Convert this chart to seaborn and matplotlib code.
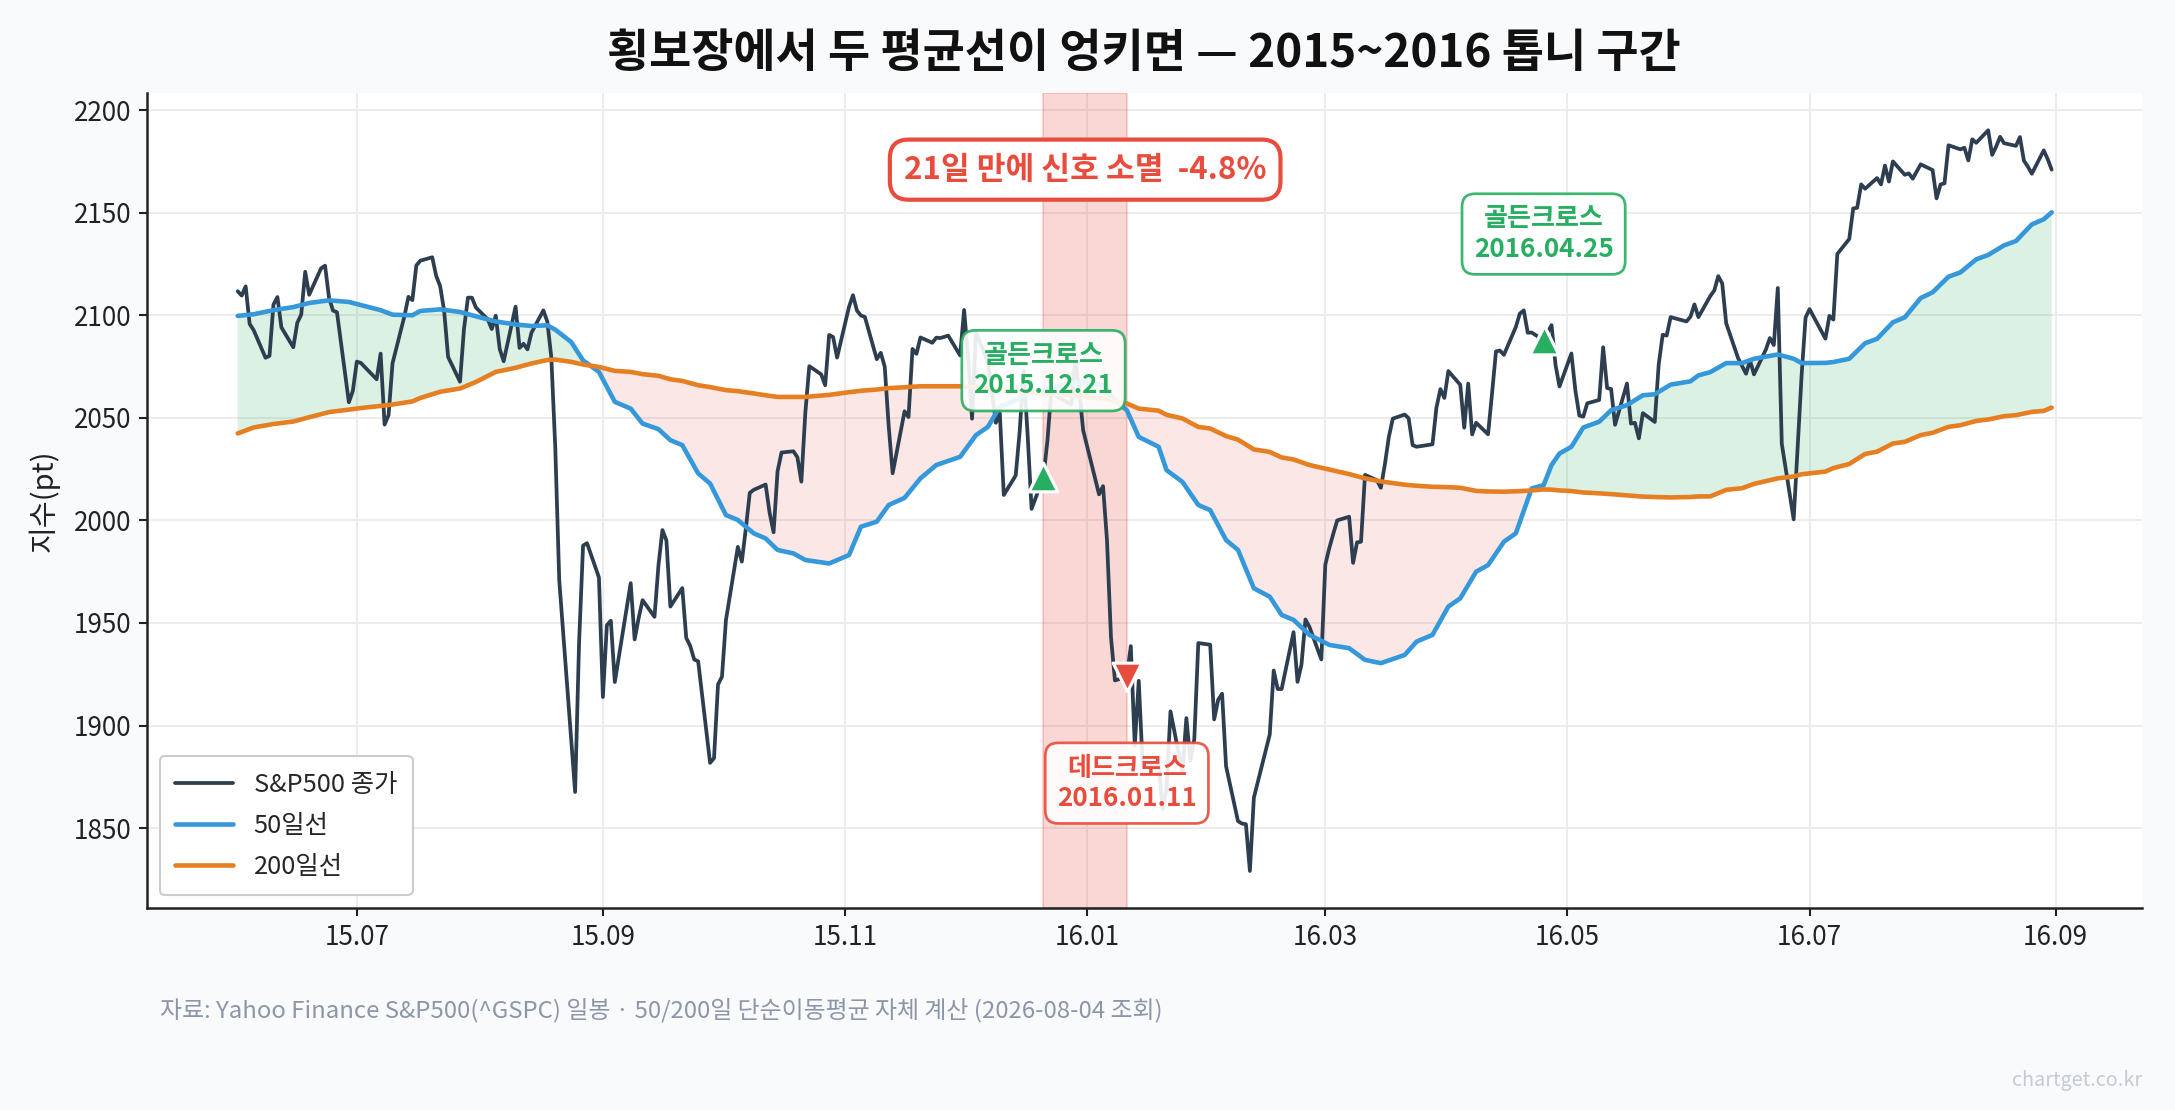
import pandas as pd
import seaborn as sns
import matplotlib.pyplot as plt
import matplotlib.dates as mdates

# S&P500 daily closes, Jun 2015 - Dec 2015
close_2015 = [
    # Jun
    2111.7, 2109.6, 2114.1, 2095.8, 2092.8, 2079.3, 2080.2, 2105.2, 2108.9, 2094.1, 2084.4,
    2096.3, 2100.4, 2121.2, 2110.0, 2122.9, 2124.2, 2108.6, 2102.3, 2101.5, 2057.6, 2063.1,
    # Jul
    2077.4, 2076.8, 2068.8, 2081.3, 2046.7, 2051.3, 2076.6, 2099.6, 2109.0, 2107.4, 2124.3,
    2126.6, 2128.3, 2119.2, 2114.2, 2102.2, 2079.7, 2067.6, 2093.3, 2108.6, 2108.6, 2103.8,
    # Aug
    2098.0, 2093.3, 2099.8, 2083.6, 2077.6, 2104.2, 2084.1, 2086.1, 2083.4, 2091.5, 2102.4,
    2096.9, 2079.6, 2035.7, 1970.9, 1893.2, 1867.6, 1940.5, 1987.7, 1988.9, 1972.2,
    # Sep
    1913.9, 1948.9, 1951.1, 1921.2, 1969.4, 1942.0, 1952.3, 1961.1, 1953.0, 1978.1, 1995.3,
    1990.2, 1958.0, 1967.0, 1942.7, 1938.8, 1932.2, 1931.3, 1881.8, 1884.1, 1920.0,
    # Oct
    1923.8, 1951.4, 1987.1, 1979.9, 1995.8, 2013.4, 2014.9, 2017.5, 2003.7, 1994.2, 2023.9,
    2033.1, 2033.7, 2030.8, 2018.9, 2052.5, 2075.2, 2071.2, 2065.9, 2090.4, 2089.4, 2079.4,
    # Nov
    2104.1, 2109.8, 2102.3, 2099.9, 2099.2, 2078.6, 2081.7, 2075.0, 2046.0, 2023.0,
    2053.2, 2050.4, 2083.6, 2081.2, 2089.2, 2086.6, 2089.1, 2088.9, 2090.1, 2080.4,
    # Dec
    2102.6, 2079.5, 2049.6, 2091.7, 2077.1, 2063.6, 2047.6, 2052.2, 2012.4, 2021.9, 2043.4,
    2073.1, 2041.9, 2005.6, 2021.2, 2039.0, 2064.3, 2061.0, 2056.5, 2078.4, 2063.4, 2043.9,
]

# Jan 2016 - Aug 2016
close_2016 = [
    # Jan
    2012.7, 2016.7, 1990.3, 1943.1, 1922.0, 1923.7, 1938.7, 1890.3, 1921.8, 1880.3,
    1881.3, 1859.3, 1869.0, 1906.9, 1877.1, 1903.6, 1883.0, 1893.4, 1940.2,
    # Feb
    1939.4, 1903.0, 1912.5, 1915.5, 1880.1, 1853.4, 1852.2, 1851.9, 1829.1, 1864.8,
    1895.6, 1926.8, 1917.8, 1917.8, 1945.5, 1921.3, 1929.8, 1951.7, 1948.1, 1932.2,
    # Mar
    1978.4, 1986.5, 1993.4, 2000.0, 2001.8, 1979.3, 1989.3, 1989.6, 2022.2, 2019.6, 2015.9,
    2027.2, 2040.6, 2049.6, 2051.6, 2049.8, 2036.7, 2035.9, 2037.1, 2055.0, 2064.0, 2059.7,
    # Apr
    2072.8, 2066.1, 2045.2, 2066.7, 2041.9, 2047.6, 2042.0, 2061.7, 2082.4, 2082.8, 2080.7,
    2094.3, 2100.8, 2102.4, 2091.5, 2091.6, 2087.8, 2091.7, 2095.2, 2075.8, 2065.3,
    # May
    2081.4, 2063.4, 2051.1, 2050.6, 2057.1, 2058.7, 2084.4, 2064.5, 2064.1, 2046.6, 2066.7,
    2047.2, 2047.6, 2040.0, 2052.3, 2048.0, 2076.1, 2090.5, 2090.1, 2099.1, 2097.0,
    # Jun
    2099.3, 2105.3, 2099.1, 2109.4, 2112.1, 2119.1, 2115.5, 2096.1, 2079.1, 2075.3, 2071.5,
    2078.0, 2071.2, 2083.3, 2088.9, 2085.5, 2113.3, 2037.4, 2000.5, 2036.1, 2070.8, 2098.9,
    # Jul
    2103.0, 2088.6, 2099.7, 2097.9, 2129.9, 2137.2, 2152.1, 2152.4, 2163.8, 2161.7,
    2166.9, 2163.8, 2173.0, 2165.2, 2175.0, 2168.5, 2169.2, 2166.6, 2170.1, 2173.6,
    # Aug
    2170.8, 2157.0, 2163.8, 2164.3, 2182.9, 2180.9, 2181.7, 2175.5, 2185.8, 2184.1, 2190.2,
    2178.2, 2182.2, 2187.0, 2183.9, 2182.6, 2186.9, 2175.4, 2172.5, 2169.0, 2180.4, 2176.1,
    2171.0,
]

market_holidays = ["2015-07-03", "2015-09-07", "2015-11-26", "2015-12-25", "2016-01-01",
                   "2016-01-18", "2016-02-15", "2016-03-25", "2016-05-30", "2016-07-04"]

# moving averages sampled from the chart
ma_dates = [
    "2015-06-01", "2015-06-05", "2015-06-10", "2015-06-15", "2015-06-19", "2015-06-24",
    "2015-06-29", "2015-07-03", "2015-07-07", "2015-07-10", "2015-07-15", "2015-07-17",
    "2015-07-22", "2015-07-27", "2015-07-31", "2015-08-05", "2015-08-10", "2015-08-14",
    "2015-08-18", "2015-08-20", "2015-08-24", "2015-08-27", "2015-08-31", "2015-09-04",
    "2015-09-08", "2015-09-11", "2015-09-15", "2015-09-18", "2015-09-21", "2015-09-25",
    "2015-09-28", "2015-10-02", "2015-10-05", "2015-10-09", "2015-10-12", "2015-10-15",
    "2015-10-19", "2015-10-22", "2015-10-28", "2015-11-02", "2015-11-05", "2015-11-09",
    "2015-11-12", "2015-11-16", "2015-11-20", "2015-11-24", "2015-11-30", "2015-12-04",
    "2015-12-07", "2015-12-10", "2015-12-14", "2015-12-17", "2015-12-22", "2015-12-28",
    "2015-12-31", "2016-01-05", "2016-01-08", "2016-01-11", "2016-01-14", "2016-01-19",
    "2016-01-21", "2016-01-25", "2016-01-29", "2016-02-01", "2016-02-05", "2016-02-08",
    "2016-02-12", "2016-02-16", "2016-02-19", "2016-02-22", "2016-02-26", "2016-03-02",
    "2016-03-07", "2016-03-11", "2016-03-15", "2016-03-21", "2016-03-24", "2016-03-28",
    "2016-04-01", "2016-04-04", "2016-04-08", "2016-04-11", "2016-04-15", "2016-04-18",
    "2016-04-22", "2016-04-25", "2016-04-27", "2016-04-29", "2016-05-02", "2016-05-05",
    "2016-05-09", "2016-05-12", "2016-05-16", "2016-05-20", "2016-05-23", "2016-05-27",
    "2016-06-01", "2016-06-03", "2016-06-06", "2016-06-10", "2016-06-14", "2016-06-17",
    "2016-06-23", "2016-06-27", "2016-06-29", "2016-07-05", "2016-07-07", "2016-07-11",
    "2016-07-15", "2016-07-18", "2016-07-22", "2016-07-25", "2016-07-29", "2016-08-01",
    "2016-08-05", "2016-08-08", "2016-08-12", "2016-08-15", "2016-08-19", "2016-08-22",
    "2016-08-26", "2016-08-29", "2016-08-31",
]
ma50 = [
    2099.7, 2100.5, 2102.5, 2104.0, 2106.0, 2107.3, 2106.5, 2104.5, 2102.5, 2100.3,
    2100.0, 2102.1, 2102.9, 2101.6, 2099.5, 2097.0, 2095.5, 2094.8, 2095.1, 2093.0,
    2087.0, 2078.0, 2072.4, 2057.8, 2054.5, 2047.2, 2044.5, 2039.1, 2036.7, 2022.9,
    2018.0, 2002.6, 2000.2, 1993.7, 1991.2, 1985.6, 1983.9, 1980.7, 1979.0, 1983.1,
    1996.9, 1999.4, 2007.5, 2011.0, 2020.5, 2027.0, 2031.0, 2041.6, 2045.6, 2055.4,
    2058.6, 2061.9, 2064.3, 2066.7, 2067.5, 2066.0, 2058.6, 2053.7, 2040.7, 2035.9,
    2024.5, 2018.8, 2007.5, 2005.0, 1990.4, 1985.6, 1966.9, 1962.8, 1953.9, 1951.5,
    1944.2, 1939.3, 1937.7, 1932.0, 1930.4, 1934.4, 1940.9, 1944.2, 1958.0, 1962.0,
    1975.0, 1978.2, 1989.6, 1993.7, 2015.6, 2017.2, 2027.0, 2032.6, 2035.9, 2045.3,
    2048.1, 2053.7, 2056.2, 2061.0, 2061.5, 2066.2, 2067.8, 2070.7, 2072.3, 2076.7,
    2076.7, 2078.8, 2080.9, 2078.8, 2076.7, 2076.8, 2077.2, 2078.8, 2086.4, 2088.5,
    2096.6, 2099.0, 2108.4, 2111.2, 2118.8, 2120.9, 2127.3, 2129.4, 2134.1, 2136.2,
    2144.3, 2146.8, 2150.2,
]
ma200 = [
    2042.4, 2045.3, 2047.0, 2048.2, 2050.3, 2052.8, 2054.0, 2055.0, 2055.8, 2056.5,
    2058.0, 2059.7, 2062.7, 2064.3, 2067.5, 2072.4, 2074.4, 2076.5, 2078.2, 2078.4,
    2077.3, 2076.0, 2074.8, 2072.9, 2072.4, 2071.3, 2070.5, 2068.8, 2068.0, 2065.9,
    2065.0, 2063.5, 2063.0, 2061.9, 2061.0, 2060.2, 2060.2, 2060.2, 2061.2, 2062.5,
    2063.2, 2063.8, 2064.5, 2064.9, 2065.4, 2065.4, 2065.4, 2064.8, 2064.5, 2063.5,
    2062.8, 2062.2, 2061.8, 2061.0, 2060.3, 2059.5, 2058.0, 2057.0, 2054.5, 2053.5,
    2051.5, 2049.7, 2045.6, 2044.8, 2041.1, 2039.4, 2034.6, 2033.4, 2030.7, 2029.7,
    2027.0, 2024.8, 2022.6, 2020.5, 2019.0, 2017.4, 2016.9, 2016.4, 2016.2, 2015.9,
    2014.4, 2014.1, 2014.0, 2014.2, 2014.6, 2015.1, 2015.0, 2014.6, 2014.3, 2013.6,
    2013.2, 2012.8, 2012.2, 2011.6, 2011.4, 2011.2, 2011.4, 2011.7, 2011.7, 2014.9,
    2015.7, 2017.8, 2020.5, 2021.4, 2022.5, 2023.8, 2025.5, 2027.5, 2032.4, 2033.5,
    2037.5, 2038.3, 2041.6, 2042.7, 2045.6, 2046.4, 2048.5, 2049.2, 2050.8, 2051.3,
    2052.9, 2053.4, 2055.0,
]

signal_dates = ["2015-12-21", "2016-01-11", "2016-04-25"]
signal_kinds = ["golden", "dead", "golden"]
signal_labels = ["골든크로스\n2015.12.21", "데드크로스\n2016.01.11", "골든크로스\n2016.04.25"]
fail_note = "21일 만에 신호 소멸  -4.8%"
fail_note_y = 2171

C_CLOSE = "#2c3e50"
C_MA50 = "#3498db"
C_MA200 = "#e67e22"
C_GREEN = "#27ae60"
C_RED = "#e74c3c"

sns.set_theme(style="whitegrid")
plt.rcParams["font.family"] = ["Noto Sans CJK KR", "DejaVu Sans"]
plt.rcParams["axes.unicode_minus"] = False

dates = pd.bdate_range("2015-06-01", "2016-08-31", freq="C", holidays=market_holidays)
close = pd.Series(close_2015 + close_2016, index=dates)
ma = pd.DataFrame({"ma50": ma50, "ma200": ma200}, index=pd.to_datetime(ma_dates))

fig, ax = plt.subplots(figsize=(14.5, 7.4), dpi=150)
fig.patch.set_facecolor("#f8fafc")
ax.set_facecolor("white")
fig.subplots_adjust(left=0.0676, right=0.985, top=0.916, bottom=0.182)

# flip zone between the golden cross and the dead cross
ax.axvspan(pd.Timestamp(signal_dates[0]), pd.Timestamp(signal_dates[1]),
           color=C_RED, alpha=0.22, lw=1, zorder=1)

ax.fill_between(ma.index, ma["ma50"], ma["ma200"], where=ma["ma50"] >= ma["ma200"],
                interpolate=True, color=C_GREEN, alpha=0.17, lw=0, zorder=1)
ax.fill_between(ma.index, ma["ma50"], ma["ma200"], where=ma["ma50"] < ma["ma200"],
                interpolate=True, color=C_RED, alpha=0.13, lw=0, zorder=1)

sns.lineplot(x=close.index, y=close.values, ax=ax, color=C_CLOSE, lw=1.8,
             label="S&P500 종가", zorder=3)
sns.lineplot(x=ma.index, y=ma["ma50"].values, ax=ax, color=C_MA50, lw=2.2,
             label="50일선", zorder=3)
sns.lineplot(x=ma.index, y=ma["ma200"].values, ax=ax, color=C_MA200, lw=2.2,
             label="200일선", zorder=3)

for d, kind, text in zip(signal_dates, signal_kinds, signal_labels):
    t = pd.Timestamp(d)
    y = close[t]
    col = C_GREEN if kind == "golden" else C_RED
    ax.scatter([t], [y], marker="^" if kind == "golden" else "v", s=190, color=col,
               edgecolor="white", linewidth=1.5, zorder=6)
    off = 51 if kind == "golden" else -51
    ax.annotate(text, xy=(t, y), xytext=(0, off), textcoords="offset points",
                ha="center", va="center", fontsize=12.5, fontweight="bold", color=col,
                linespacing=1.15, zorder=7,
                bbox=dict(boxstyle="round,pad=0.45,rounding_size=0.5", fc="white",
                          ec=col, lw=1.3, alpha=0.9))

mid = pd.Timestamp(signal_dates[0]) + (pd.Timestamp(signal_dates[1]) - pd.Timestamp(signal_dates[0])) / 2
ax.text(mid, fail_note_y, fail_note, ha="center", va="center", fontsize=15,
        fontweight="bold", color=C_RED, zorder=7,
        bbox=dict(boxstyle="round,pad=0.45,rounding_size=0.6", fc="white", ec=C_RED, lw=2))

ax.xaxis.set_major_locator(mdates.MonthLocator(bymonth=[1, 3, 5, 7, 9, 11]))
ax.xaxis.set_major_formatter(mdates.DateFormatter("%y.%m"))
ax.set_yticks(range(1850, 2201, 50))
ax.margins(x=0.05, y=0.05)
ax.grid(True, color="#ebebeb", lw=0.9)
for s in ["top", "right"]:
    ax.spines[s].set_visible(False)
for s in ["left", "bottom"]:
    ax.spines[s].set_color("#222222")
    ax.spines[s].set_linewidth(1.2)
ax.tick_params(axis="both", which="major", direction="out", length=4, width=1,
               color="#222222", labelsize=12.5, labelcolor="#222222", bottom=True, left=True)
ax.set_xlabel("")
ax.set_ylabel("지수(pt)", fontsize=14, color="#222222")
ax.yaxis.set_label_coords(-0.0436, 0.5)

leg = ax.legend(loc="lower left", fontsize=12.2, frameon=True, handlelength=2.3,
                handletextpad=0.8, borderpad=0.6, labelspacing=0.6)
leg.get_frame().set_edgecolor("#cccccc")
leg.get_frame().set_facecolor("white")
leg.get_frame().set_alpha(1)

fig.text(0.526, 0.951, "횡보장에서 두 평균선이 엉키면 — 2015~2016 톱니 구간",
         ha="center", va="center", fontsize=22, fontweight="bold", color="#111111")
fig.text(0.0735, 0.09, "자료: Yahoo Finance S&P500(^GSPC) 일봉 · 50/200일 단순이동평균 자체 계산 (2026-08-04 조회)",
         ha="left", va="center", fontsize=11.5, color="#8c96a8")
fig.text(0.985, 0.027, "chartget.co.kr", ha="right", va="center", fontsize=9.5, color="#c5cad3")

fig.savefig("out.png", dpi=150, facecolor=fig.get_facecolor())
